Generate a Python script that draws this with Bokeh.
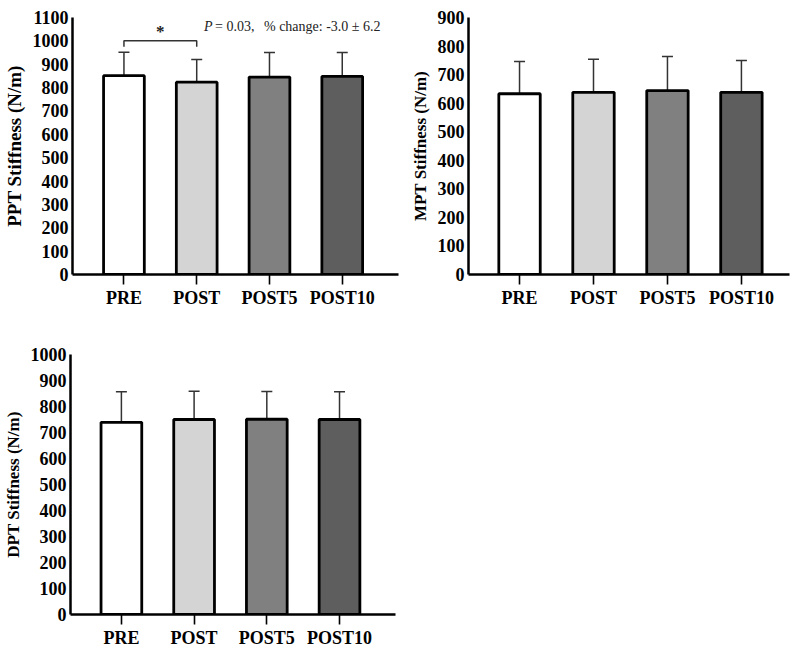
from bokeh.plotting import figure
from bokeh.layouts import column, row
from bokeh.models import ColumnDataSource, FixedTicker, Whisker, TeeHead, Range1d, Spacer
from bokeh.core.properties import value
from bokeh.embed import file_html
from bokeh.resources import INLINE

# ---------------- data ----------------
categories = ["PRE", "POST", "POST5", "POST10"]
bar_colors = ["#ffffff", "#d4d4d4", "#808080", "#5e5e5e"]

ppt_mean = [851, 823, 845, 848]
ppt_sd = [100, 97, 105, 102]

mpt_mean = [633, 638, 644, 638]
mpt_sd = [113, 116, 119, 111]

dpt_mean = [739, 750, 751, 750]
dpt_sd = [118, 109, 107, 107]

ppt_ticks = list(range(0, 1101, 100))
mpt_ticks = list(range(0, 901, 100))
dpt_ticks = list(range(0, 1001, 100))

FONT = "Liberation Serif"


def make_panel(means, sds, ticks, ylabel, width, height, left, top, bottom, right,
               xr, ymax, label_size):
    xs = list(range(1, len(categories) + 1))
    src = ColumnDataSource(dict(
        x=xs, top=means, upper=[m + s for m, s in zip(means, sds)],
        color=bar_colors, cat=categories))
    p = figure(width=width, height=height, output_backend="svg", toolbar_location=None,
               x_range=Range1d(*xr), y_range=Range1d(0, ymax),
               min_border_left=left, min_border_right=right,
               min_border_top=top, min_border_bottom=bottom)
    p.outline_line_color = None
    p.xgrid.visible = False
    p.ygrid.visible = False
    p.background_fill_color = "white"

    wh = Whisker(source=src, base="x", upper="upper", lower="top",
                 line_color="#333333", line_width=1.5, lower_head=None,
                 upper_head=TeeHead(size=11, line_color="#333333", line_width=1.5),
                 level="underlay")
    p.add_layout(wh)
    p.vbar(x="x", top="top", width=0.56, bottom=0, source=src, fill_color="color",
           line_color="black", line_width=2.8)

    # axes
    p.xaxis.ticker = FixedTicker(ticks=xs)
    p.xaxis.major_label_overrides = {x: c for x, c in zip(xs, categories)}
    p.xaxis.major_tick_out = 10
    p.xaxis.major_tick_in = 0
    p.xaxis.minor_tick_line_color = None
    p.xaxis.major_tick_line_width = 1.6
    p.xaxis.axis_line_width = 2.5
    p.xaxis.axis_line_color = "black"
    p.xaxis.major_label_text_font = FONT
    p.xaxis.major_label_text_font_style = "bold"
    p.xaxis.major_label_text_font_size = "18px"
    p.xaxis.major_label_text_color = "black"
    p.xaxis.major_label_standoff = 3

    p.yaxis.ticker = FixedTicker(ticks=ticks)
    p.yaxis.major_tick_out = 0
    p.yaxis.major_tick_in = 0
    p.yaxis.minor_tick_line_color = None
    p.yaxis.axis_line_width = 2.5
    p.yaxis.axis_line_color = "black"
    p.yaxis.major_label_text_font = FONT
    p.yaxis.major_label_text_font_style = "bold"
    p.yaxis.major_label_text_font_size = "18px"
    p.yaxis.major_label_text_color = "black"
    p.yaxis.major_label_standoff = 4
    p.yaxis.axis_label = ylabel
    p.yaxis.axis_label_text_font = FONT
    p.yaxis.axis_label_text_font_style = "bold"
    p.yaxis.axis_label_text_font_size = label_size
    p.yaxis.axis_label_text_color = "black"
    p.yaxis.axis_label_standoff = 5
    return p


p1 = make_panel(ppt_mean, ppt_sd, ppt_ticks, "PPT Stiffness (N/m)", 402, 310,
                60, 8, 36, 4, (0.293, 4.773), 1100, "19px")

# significance bracket
p1.line(x=[1, 1, 2, 2], y=[975, 1000, 1000, 975], line_color="#333333", line_width=1.5)
p1.text(x=[1.5], y=[1040], text=["*"], text_align="center", text_baseline="middle",
        text_font=value(FONT), text_font_style="bold", text_font_size="17px", text_color="#222222")
p1.text(x=[2.1], y=[1062], text=["P"], text_align="left", text_baseline="middle",
        text_font=value(FONT), text_font_style="italic", text_font_size="14px", text_color="#222222")
p1.text(x=[2.1], y=[1062], text=["= 0.03,"], x_offset=11, text_align="left",
        text_baseline="middle", text_font=value(FONT), text_font_size="14px", text_color="#222222")
p1.text(x=[2.1], y=[1062], text=["% change: -3.0 \u00b1 6.2"], x_offset=60, text_align="left",
        text_baseline="middle", text_font=value(FONT), text_font_size="14px", text_color="#222222")

p2 = make_panel(mpt_mean, mpt_sd, mpt_ticks, "MPT Stiffness (N/m)", 391, 310,
                66, 17, 36, 4, (0.31, 4.65), 900, "17px")

p3 = make_panel(dpt_mean, dpt_sd, dpt_ticks, "DPT Stiffness (N/m)", 399, 340,
                60, 44, 36, 4, (0.30, 4.77), 1000, "17px")

layout = column(row(p1, p2), row(p3, Spacer(width=391, height=340)))

open("out.html", "w").write(file_html(layout, INLINE))
